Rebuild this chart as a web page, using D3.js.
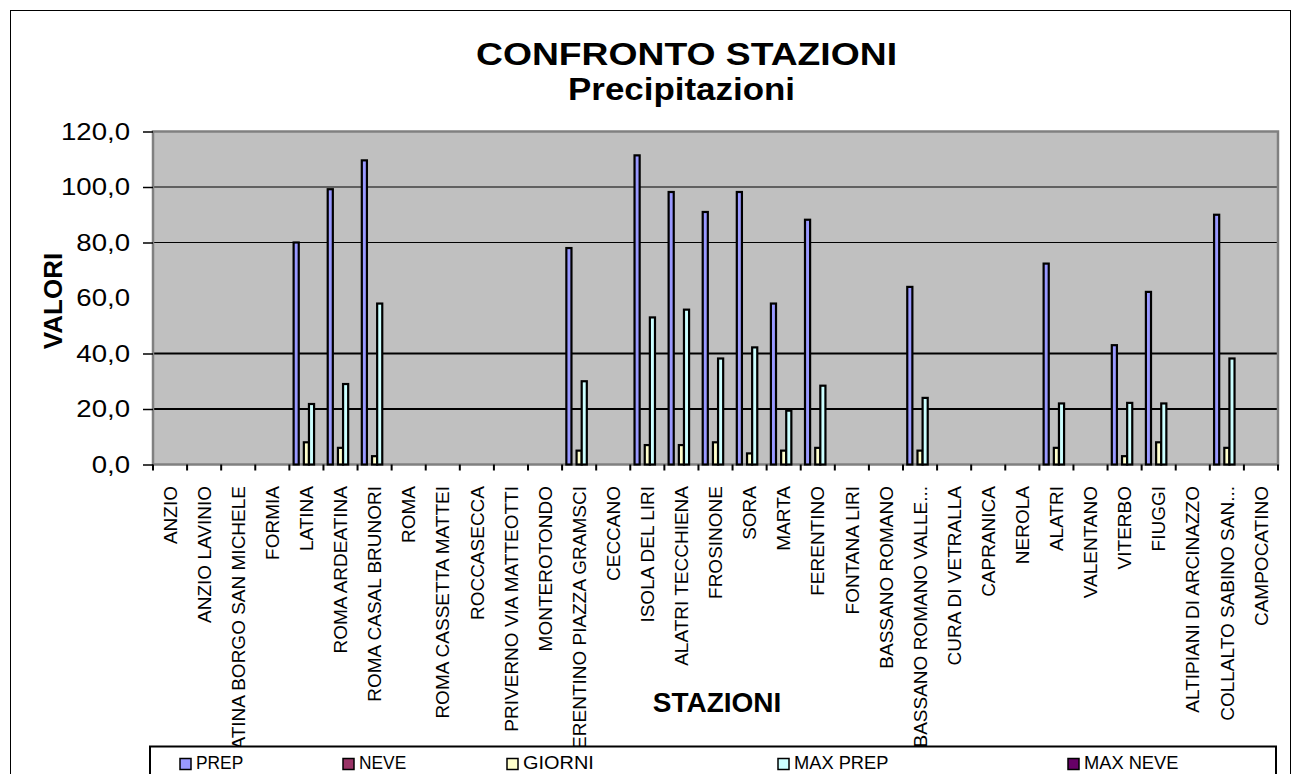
<!DOCTYPE html>
<html>
<head>
<meta charset="utf-8">
<script src="https://cdn.jsdelivr.net/npm/d3@7"></script>
<style>
  body { margin: 0; background: #fff; }
  svg { display: block; }
  text { font-family: Arial, "Liberation Sans", sans-serif; fill: #000; }
</style>
</head>
<body>
<svg id="chart" width="1293" height="774"></svg>
<script>
// Stations along the x axis
const stations = [
  "ANZIO", "ANZIO LAVINIO", "LATINA BORGO SAN MICHELE", "FORMIA", "LATINA",
  "ROMA ARDEATINA", "ROMA CASAL BRUNORI", "ROMA", "ROMA CASSETTA MATTEI", "ROCCASECCA",
  "PRIVERNO VIA MATTEOTTI", "MONTEROTONDO", "FERENTINO PIAZZA GRAMSCI", "CECCANO", "ISOLA DEL LIRI",
  "ALATRI TECCHIENA", "FROSINONE", "SORA", "MARTA", "FERENTINO",
  "FONTANA LIRI", "BASSANO ROMANO", "BASSANO ROMANO VALLE...", "CURA DI VETRALLA", "CAPRANICA",
  "NEROLA", "ALATRI", "VALENTANO", "VITERBO", "FIUGGI",
  "ALTIPIANI DI ARCINAZZO", "COLLALTO SABINO SAN...", "CAMPOCATINO"
];

// Series values, one entry per station
const prep = [
  0, 0, 0, 0, 80.0,
  99.2, 109.6, 0, 0, 0,
  0, 0, 78.0, 0, 111.4,
  98.2, 91.0, 98.2, 58.0, 88.2,
  0, 0, 64.0, 0, 0,
  0, 72.4, 0, 43.0, 62.2,
  0, 90.0, 0
];
const neve = [
  0, 0, 0, 0, 0,
  0, 0, 0, 0, 0,
  0, 0, 0, 0, 0,
  0, 0, 0, 0, 0,
  0, 0, 0, 0, 0,
  0, 0, 0, 0, 0,
  0, 0, 0
];
const giorni = [
  0, 0, 0, 0, 8,
  6, 3, 0, 0, 0,
  0, 0, 5, 0, 7,
  7, 8, 4, 5, 6,
  0, 0, 5, 0, 0,
  0, 6, 0, 3, 8,
  0, 6, 0
];
const maxPrep = [
  0, 0, 0, 0, 21.8,
  29.0, 58.0, 0, 0, 0,
  0, 0, 30.0, 0, 53.0,
  55.8, 38.2, 42.2, 19.4, 28.4,
  0, 0, 24.0, 0, 0,
  0, 22.0, 0, 22.2, 22.0,
  0, 38.2, 0
];
const maxNeve = [
  0, 0, 0, 0, 0,
  0, 0, 0, 0, 0,
  0, 0, 0, 0, 0,
  0, 0, 0, 0, 0,
  0, 0, 0, 0, 0,
  0, 0, 0, 0, 0,
  0, 0, 0
];

const seriesNames = ["PREP", "NEVE", "GIORNI", "MAX PREP", "MAX NEVE"];
const seriesValues = [prep, neve, giorni, maxPrep, maxNeve];
const seriesColors = ["#9999FF", "#993366", "#FFFFCC", "#CCFFFF", "#660066"];

const yTicks = [0, 20, 40, 60, 80, 100, 120];
const gridValues = [20, 40, 80, 100];
const tickMarkValues = [0, 20, 40, 80, 100, 120];

const titleLines = ["CONFRONTO STAZIONI", "Precipitazioni"];
const xTitle = "STAZIONI";
const yTitle = "VALORI";

// ---- layout ----
const svg = d3.select("#chart");
const plot = { left: 153, right: 1278, top: 131.5, bottom: 464.5 };

// outer chart frame
svg.append("rect")
  .attr("x", 10.5).attr("y", 10.5).attr("width", 1280).attr("height", 800)
  .attr("fill", "#fff").attr("stroke", "#000").attr("stroke-width", 1);

const x = d3.scaleBand().domain(stations).range([plot.left, plot.right]).paddingInner(0).paddingOuter(0);
const groupFrac = 0.75;
const xs = d3.scaleBand().domain(seriesNames)
  .range([x.bandwidth() * (1 - groupFrac) / 2, x.bandwidth() * (1 + groupFrac) / 2]);
const y = d3.scaleLinear().domain([0, 120]).range([plot.bottom, plot.top]);

// plot background
svg.append("rect")
  .attr("x", plot.left).attr("y", plot.top)
  .attr("width", plot.right - plot.left).attr("height", plot.bottom - plot.top)
  .attr("fill", "#C0C0C0");

// gridlines
svg.append("g").selectAll("line").data(gridValues).join("line")
  .attr("x1", plot.left).attr("x2", plot.right)
  .attr("y1", d => y(d)).attr("y2", d => y(d))
  .attr("stroke", "#000")
  .attr("stroke-width", d => d <= 40 ? 2 : 1.2);

// plot border
svg.append("rect")
  .attr("x", plot.left).attr("y", plot.top)
  .attr("width", plot.right - plot.left).attr("height", plot.bottom - plot.top)
  .attr("fill", "none").attr("stroke", "#808080").attr("stroke-width", 2.5);

// bars
const barData = [];
stations.forEach((s, i) => {
  seriesNames.forEach((n, k) => {
    barData.push({ station: s, series: n, value: seriesValues[k][i], color: seriesColors[k] });
  });
});
svg.append("g").selectAll("rect").data(barData.filter(d => d.value > 0)).join("rect")
  .attr("x", d => x(d.station) + xs(d.series))
  .attr("y", d => y(d.value))
  .attr("width", xs.bandwidth())
  .attr("height", d => y(0) - y(d.value))
  .attr("fill", d => d.color)
  .attr("stroke", "#000")
  .attr("stroke-width", 2.2);

// y axis
const yAxis = d3.axisLeft(y)
  .tickValues(yTicks)
  .tickFormat(d => d3.format(".1f")(d).replace(".", ","))
  .tickSize(10)
  .tickPadding(13);
const yAxisG = svg.append("g").attr("transform", `translate(${plot.left},0)`).call(yAxis);
yAxisG.select(".domain").remove();
yAxisG.selectAll(".tick line")
  .attr("stroke", "#000").attr("stroke-width", 1.5)
  .attr("opacity", d => tickMarkValues.includes(d) ? 1 : 0);
yAxisG.selectAll(".tick text")
  .style("font-size", "24px").attr("fill", "#000")
  .each(function () {
    const w = this.getComputedTextLength();
    d3.select(this).attr("textLength", w * 1.15).attr("lengthAdjust", "spacingAndGlyphs");
  });

// x axis tick marks at category boundaries
const bounds = stations.map(s => x(s)).concat([plot.right]);
svg.append("g").selectAll("line").data(bounds).join("line")
  .attr("x1", d => d).attr("x2", d => d)
  .attr("y1", plot.bottom).attr("y2", plot.bottom + 6)
  .attr("stroke", "#000").attr("stroke-width", 2);

// x axis labels, rotated
svg.append("g").selectAll("text").data(stations).join("text")
  .attr("transform", d => `translate(${x(d) + x.bandwidth() / 2},486) rotate(-90)`)
  .attr("text-anchor", "end")
  .attr("dy", "0.35em")
  .style("font-size", "19px")
  .text(d => d);

// titles
svg.append("text")
  .attr("x", 686.5).attr("y", 65).attr("text-anchor", "middle")
  .style("font-size", "31px").style("font-weight", "bold")
  .attr("textLength", 421).attr("lengthAdjust", "spacingAndGlyphs")
  .text(titleLines[0]);
svg.append("text")
  .attr("x", 681.5).attr("y", 100).attr("text-anchor", "middle")
  .style("font-size", "31px").style("font-weight", "bold")
  .attr("textLength", 227).attr("lengthAdjust", "spacingAndGlyphs")
  .text(titleLines[1]);

svg.append("text")
  .attr("x", 717).attr("y", 712).attr("text-anchor", "middle")
  .style("font-size", "28px").style("font-weight", "bold")
  .text(xTitle);

svg.append("text")
  .attr("transform", "translate(62,301) rotate(-90)")
  .attr("text-anchor", "middle")
  .style("font-size", "26px").style("font-weight", "bold")
  .text(yTitle);

// legend (drawn last, on top of the long station names)
const legend = svg.append("g");
legend.append("rect")
  .attr("x", 150).attr("y", 746.5).attr("width", 1126).attr("height", 60)
  .attr("fill", "#fff").attr("stroke", "#000").attr("stroke-width", 2);
const legendX = [180, 343, 507, 778, 1068];
const items = legend.selectAll("g.item").data(seriesNames).join("g")
  .attr("class", "item")
  .attr("transform", (d, i) => `translate(${legendX[i]},0)`);
items.append("rect")
  .attr("x", 0).attr("y", 758.5).attr("width", 11).attr("height", 11)
  .attr("fill", (d, i) => seriesColors[i])
  .attr("stroke", "#000").attr("stroke-width", 1.5);
items.append("text")
  .attr("x", 16).attr("y", 769)
  .style("font-size", "18px")
  .attr("textLength", d => d.length * 11.8)
  .attr("lengthAdjust", "spacingAndGlyphs")
  .text(d => d);
</script>
</body>
</html>
